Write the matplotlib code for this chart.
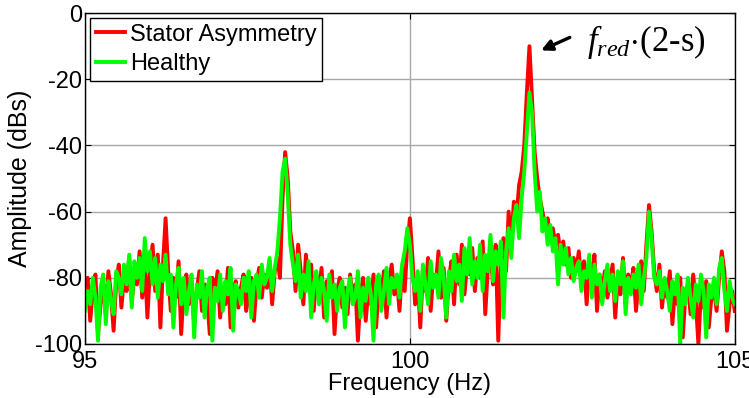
import numpy as np
import matplotlib.pyplot as plt

plt.rcParams['font.family'] = 'Liberation Sans'
plt.rcParams['axes.unicode_minus'] = False
plt.rcParams['mathtext.fontset'] = 'custom'
plt.rcParams['mathtext.it'] = 'Liberation Serif:italic'
plt.rcParams['mathtext.rm'] = 'Liberation Serif'

# frequency bins (Hz), 0.04 Hz resolution
freq = np.linspace(95, 105, 251)

# Stator Asymmetry spectrum (dB)
stator = [
    -86, -80, -93, -84, -79, -97, -88, -82, -91, -78,
    -85, -96, -81, -76, -89, -80, -84, -74, -87, -79,
    -82, -72, -86, -75, -92, -77, -70, -84, -73, -95,
    -76, -62, -78, -90, -80, -86, -75, -97, -83, -79,
    -88, -81, -94, -84, -78, -90, -82, -86, -97, -80,
    -85, -78, -92, -83, -88, -77, -95, -84, -81, -89,
    -83, -79, -90, -85, -80, -93, -82, -77, -86, -79,
    -83, -75, -88, -78, -74, -80, -56, -42, -50, -66,
    -72, -84, -70, -78, -88, -73, -82, -76, -90, -79,
    -85, -77, -92, -81, -86, -78, -97, -84, -80, -89,
    -83, -91, -79, -87, -82, -99, -85, -80, -93, -84,
    -88, -79, -95, -83, -86, -78, -92, -81, -76, -85,
    -80, -90, -77, -84, -70, -62, -74, -88, -80, -95,
    -78, -84, -74, -90, -79, -82, -72, -86, -77, -93,
    -80, -75, -88, -73, -82, -70, -85, -76, -79, -71,
    -84, -74, -80, -69, -91, -77, -72, -82, -70, -99,
    -75, -68, -78, -60, -70, -57, -62, -52, -48, -40,
    -24, -10, -26, -42, -50, -56, -60, -64, -62, -68,
    -65, -70, -67, -73, -69, -76, -71, -80, -74, -78,
    -72, -82, -75, -88, -77, -80, -73, -90, -79, -84,
    -78, -86, -81, -76, -92, -80, -85, -74, -88, -79,
    -83, -77, -90, -81, -75, -84, -70, -58, -66, -78,
    -84, -76, -89, -81, -86, -78, -94, -83, -88, -80,
    -98, -85, -82, -91, -79, -87, -100, -84, -89, -81,
    -95, -86, -83, -90, -80, -72, -78, -96, -88, -84,
    -90,
]

# Healthy spectrum (dB)
healthy = [
    -90, -84, -88, -80, -86, -99, -83, -79, -94, -81,
    -87, -91, -78, -80, -85, -76, -82, -73, -89, -75,
    -80, -74, -84, -68, -78, -72, -82, -74, -86, -76,
    -81, -73, -85, -79, -95, -82, -77, -88, -80, -91,
    -84, -79, -98, -82, -86, -78, -92, -83, -80, -99,
    -83, -87, -79, -90, -81, -85, -77, -96, -82, -84,
    -88, -80, -84, -78, -92, -81, -79, -86, -76, -82,
    -80, -74, -84, -77, -72, -62, -48, -44, -55, -70,
    -76, -81, -73, -86, -79, -84, -75, -92, -82, -78,
    -88, -80, -84, -93, -79, -86, -82, -90, -83, -81,
    -95, -84, -80, -88, -86, -78, -92, -83, -87, -80,
    -85, -99, -82, -79, -90, -84, -77, -88, -80, -83,
    -79, -86, -76, -72, -65, -70, -80, -84, -78, -90,
    -76, -82, -88, -75, -83, -79, -86, -74, -80, -92,
    -78, -84, -73, -81, -76, -87, -71, -79, -68, -82,
    -75, -80, -70, -84, -73, -78, -67, -81, -72, -76,
    -69, -92, -72, -65, -74, -62, -58, -68, -56, -48,
    -36, -24, -30, -48, -60, -54, -66, -62, -70, -64,
    -72, -68, -82, -70, -76, -71, -79, -74, -81, -77,
    -75, -84, -78, -80, -73, -86, -76, -82, -79, -88,
    -81, -76, -84, -79, -87, -78, -82, -75, -91, -80,
    -85, -79, -83, -76, -88, -80, -74, -60, -68, -80,
    -82, -78, -86, -80, -84, -90, -81, -85, -79, -100,
    -83, -88, -80, -86, -92, -82, -87, -79, -84, -98,
    -82, -86, -80, -88, -77, -74, -84, -90, -81, -86,
    -88,
]

fig = plt.figure(figsize=(7.49, 3.98), dpi=100)
ax = fig.add_axes([0.1135, 0.1357, 0.8675, 0.8313])

ax.plot(freq, stator, color='#ff0000', lw=2.8, label='Stator Asymmetry')
ax.plot(freq, healthy, color='#00ff00', lw=2.8, label='Healthy')

ax.set_xlim(95, 105)
ax.set_ylim(-100, 0)
ax.set_xticks([95, 100, 105])
ax.set_yticks([0, -20, -40, -60, -80, -100])
ax.tick_params(direction='in', top=True, right=True, labelsize=17, length=4, pad=2)
ax.tick_params(axis='x', pad=5)
ax.grid(True, color='#a8a8a8', lw=1)
ax.set_axisbelow(True)
for s in ax.spines.values():
    s.set_linewidth(1)

ax.set_xlabel('Frequency (Hz)', fontsize=17, labelpad=0)
ax.set_ylabel('Amplitude (dBs)', fontsize=18, labelpad=2)

leg = ax.legend(loc='upper left', fontsize=17, frameon=True, fancybox=False,
                edgecolor='black', framealpha=1, handlelength=1.25,
                handletextpad=0.2, borderpad=0.25, labelspacing=0.3,
                borderaxespad=0.2)
leg.get_frame().set_linewidth(1)

# annotation of the fault frequency
ax.annotate('', xy=(101.98, -11.6), xytext=(102.5, -7.0),
            arrowprops=dict(arrowstyle='-|>', color='black', lw=2.4,
                            mutation_scale=16))
ax.text(102.72, -11.3, r'$f_{red}$$\cdot$(2-s)', fontsize=25,
        family='Liberation Serif', va='baseline', ha='left')

fig.savefig('out.png', dpi=100)
